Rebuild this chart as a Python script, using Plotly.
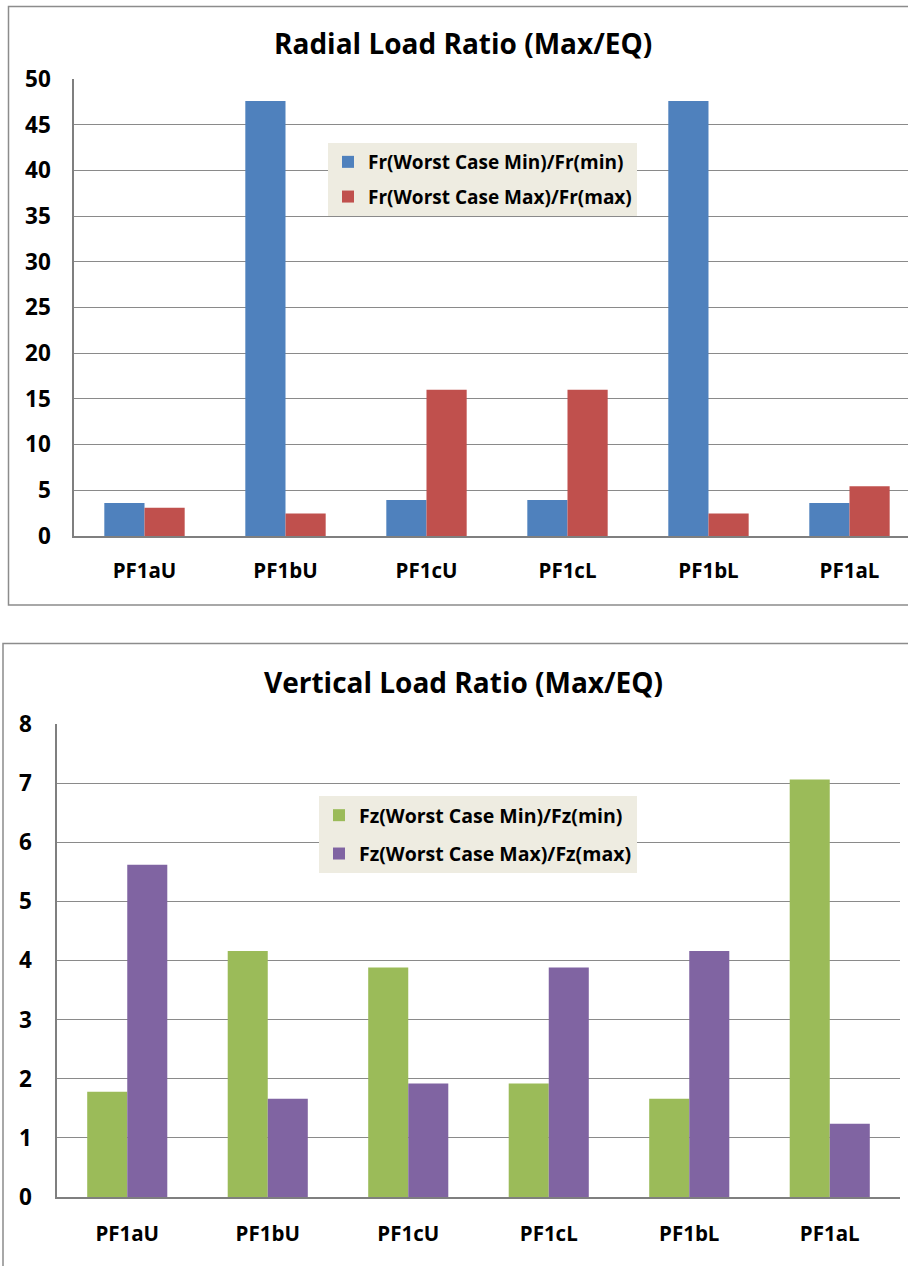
import plotly.graph_objects as go

# Category labels shared by both panels
categories = ["PF1aU", "PF1bU", "PF1cU", "PF1cL", "PF1bL", "PF1aL"]

# Radial load ratios
fr_min_ratio = [3.6, 47.6, 3.95, 3.95, 47.6, 3.6]
fr_max_ratio = [3.1, 2.45, 16.0, 16.0, 2.45, 5.45]

# Vertical load ratios
fz_min_ratio = [1.78, 4.16, 3.88, 1.92, 1.66, 7.06]
fz_max_ratio = [5.62, 1.66, 1.92, 3.88, 4.16, 1.24]

radial_ticks = [0, 5, 10, 15, 20, 25, 30, 35, 40, 45, 50]
vertical_ticks = [0, 1, 2, 3, 4, 5, 6, 7, 8]

W, H = 908, 1266
FONT = "Open Sans"
GRID = "#8a8a8a"
BORDER = "#8c8c8c"


def px_x(p):
    return p / W


def px_y(p):
    return 1 - p / H


fig = go.Figure()

fig.add_trace(go.Bar(x=categories, y=fr_min_ratio, name="Fr(Worst Case Min)/Fr(min)",
                     marker=dict(color="#4F81BD", line=dict(width=0)),
                     xaxis="x", yaxis="y", legend="legend", legendgroup="a"))
fig.add_trace(go.Bar(x=categories, y=fr_max_ratio, name="Fr(Worst Case Max)/Fr(max)",
                     marker=dict(color="#C0504D", line=dict(width=0)),
                     xaxis="x", yaxis="y", legend="legend", legendgroup="b"))
fig.add_trace(go.Bar(x=categories, y=fz_min_ratio, name="Fz(Worst Case Min)/Fz(min)",
                     marker=dict(color="#9BBB59", line=dict(width=0)),
                     xaxis="x2", yaxis="y2", legend="legend2", legendgroup="c"))
fig.add_trace(go.Bar(x=categories, y=fz_max_ratio, name="Fz(Worst Case Max)/Fz(max)",
                     marker=dict(color="#8064A2", line=dict(width=0)),
                     xaxis="x2", yaxis="y2", legend="legend2", legendgroup="d"))

ytick_font = dict(family=FONT, size=22.5, color="black", weight="bold")
xtick_font = dict(family=FONT, size=20.5, color="black", weight="bold")

xaxis_common = dict(type="category", showgrid=False, showline=True, linecolor="#7f7f7f",
                    linewidth=2, ticks="", tickfont=xtick_font,
                    automargin=False, fixedrange=True)
yaxis_common = dict(showgrid=True, gridcolor=GRID, gridwidth=1, showline=True,
                    linecolor="#7f7f7f", linewidth=1.5, zeroline=False, ticks="",
                    tickfont=ytick_font, automargin=False, fixedrange=True)

fig.update_layout(
    width=W, height=H,
    margin=dict(l=0, r=0, t=0, b=0, autoexpand=False),
    paper_bgcolor="white", plot_bgcolor="white",
    barmode="group", bargap=0.43, bargroupgap=0,
    font=dict(family=FONT, color="black"),
    xaxis=dict(xaxis_common, domain=[px_x(74), 1.0], range=[-0.5, 5.415],
               ticklabelstandoff=15, anchor="y"),
    yaxis=dict(yaxis_common, domain=[px_y(536), px_y(79)], range=[0, 50],
               tickvals=radial_ticks, ticklabelstandoff=17, anchor="x"),
    xaxis2=dict(xaxis_common, domain=[px_x(57), px_x(900)], range=[-0.5, 5.5],
                ticklabelstandoff=17, anchor="y2"),
    yaxis2=dict(yaxis_common, domain=[px_y(1197), px_y(724)], range=[0, 8],
                tickvals=vertical_ticks, ticklabelstandoff=19, anchor="x2"),
    legend=dict(x=px_x(328), y=px_y(143), xanchor="left", yanchor="top",
                bgcolor="#EEECE1",
                font=dict(family=FONT, size=19, color="black", weight="bold"),
                itemwidth=30, tracegroupgap=7, traceorder="grouped"),
    legend2=dict(x=px_x(319), y=px_y(796), xanchor="left", yanchor="top",
                 bgcolor="#EEECE1",
                 font=dict(family=FONT, size=19.5, color="black", weight="bold"),
                 itemwidth=30, tracegroupgap=10, traceorder="grouped"),
    showlegend=True,
)

# Chart frames
fig.add_shape(type="rect", xref="paper", yref="paper",
              x0=px_x(8.5), x1=1.02, y0=px_y(605), y1=px_y(6.5),
              line=dict(color=BORDER, width=1.5), layer="below")
fig.add_shape(type="rect", xref="paper", yref="paper",
              x0=px_x(3), x1=1.02, y0=-0.02, y1=px_y(643.5),
              line=dict(color=BORDER, width=1.5), layer="below")

# Chart titles
title_font = dict(family=FONT, size=28, color="black", weight="bold")
fig.add_annotation(text="Radial Load Ratio (Max/EQ)", xref="paper", yref="paper",
                   x=px_x(463), y=px_y(43), xanchor="center", yanchor="middle",
                   showarrow=False, font=title_font)
fig.add_annotation(text="Vertical Load Ratio (Max/EQ)", xref="paper", yref="paper",
                   x=px_x(463), y=px_y(682), xanchor="center", yanchor="middle",
                   showarrow=False, font=title_font)

fig.write_html("out.html")
